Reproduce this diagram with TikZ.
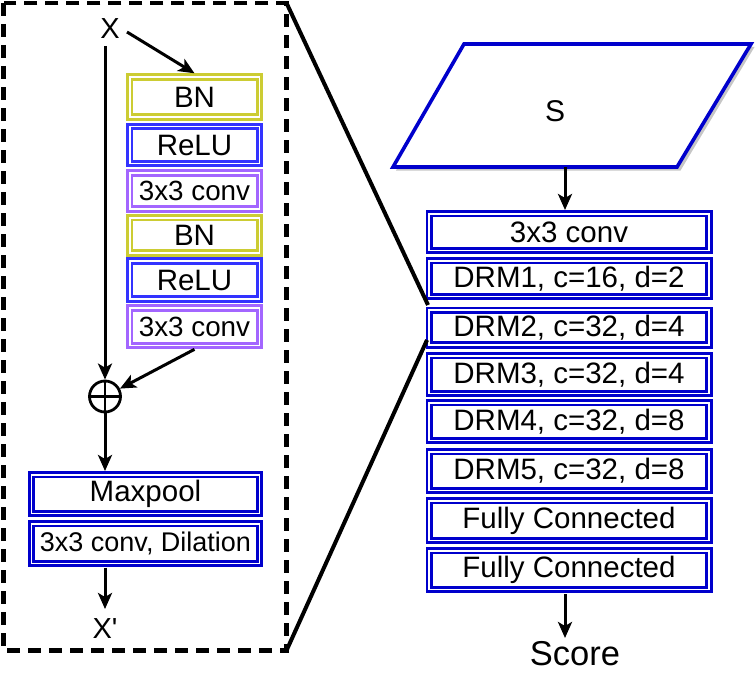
\documentclass[tikz,border=0pt]{standalone}
\usepackage{fontspec}
\setmainfont{Liberation Sans}
\usetikzlibrary{arrows.meta,calc}
\definecolor{yel}{RGB}{204,204,51}
\definecolor{rblue}{RGB}{51,51,255}
\definecolor{purp}{RGB}{163,102,255}
\definecolor{dblue}{RGB}{0,0,204}
\newcommand{\fs}[1]{\fontsize{#1bp}{#1bp}\selectfont}
\tikzset{
  dbox/.style={draw=#1, double=white, line width=2.9bp, double distance=1.6bp,
    fill=white, inner sep=0pt, outer sep=3.7bp, align=center, font=\fs{29.5}},
  conn/.style={line width=3bp, -{Stealth[length=16bp,width=14bp,inset=4bp]}},
  plainline/.style={line width=2.8bp},
  zoomline/.style={line width=4bp},
  txt/.style={inner sep=0pt, font=\fs{29}},
}
\begin{document}
\begin{tikzpicture}[x=1bp,y=-1bp]
\useasboundingbox (0,0) rectangle (756,675);
% dashed frame
\draw[line width=4.4bp, dash pattern=on 13bp off 8bp] (3.5,3) rectangle (286.5,650.5);
\coordinate (fTR) at (286.5,3);
\coordinate (fBR) at (286.5,650.5);
% left column boxes
\node[dbox=yel, minimum width=129.6bp, minimum height=40bp] (bn1) at (194.5,97) {BN};
\node[dbox=rblue, minimum width=129.6bp, minimum height=37.2bp] (relu1) at (194.5,145) {ReLU};
\node[dbox=purp, minimum width=129.6bp, minimum height=36bp, font=\fs{27.8}] (conv1) at (194.5,191) {3x3 conv};
\node[dbox=yel, minimum width=129.6bp, minimum height=35.4bp] (bn2) at (194.5,235.4) {BN};
\node[dbox=rblue, minimum width=129.6bp, minimum height=38bp] (relu2) at (194.5,280) {ReLU};
\node[dbox=purp, minimum width=129.6bp, minimum height=37.6bp, font=\fs{27.8}] (conv2) at (194.5,326.8) {3x3 conv};
\node[dbox=dblue, minimum width=227.6bp, minimum height=38.6bp] (maxp) at (145.5,494) {Maxpool};
\node[dbox=dblue, minimum width=227.6bp, minimum height=39.6bp, font=\fs{27}] (dil) at (145.5,543.5) {3x3 conv, Dilation};
% X, X'
\node[txt] (X) at (110,29) {X};
\node[txt] (Xp) at (105,629) {X\textquotesingle};
\node[draw, circle, line width=2.8bp, minimum size=31bp, inner sep=0pt] (op) at (105,396.5) {};
\draw[plainline] (op.north) -- (op.south);
\draw[plainline] (op.west) -- (op.east);
\coordinate (Xs) at (105,46);
\draw[conn] (Xs) -- (op.north);
\draw[conn] (127,32) -- (bn1.north);
\draw[conn] (conv2.south) -- (op);
\draw[conn] (op.south) -- (op.south |- maxp.north);
\coordinate (dilb) at (105,567.5);
\coordinate (xpt) at (105,609);
\draw[conn] (dilb) -- (xpt);
% parallelogram S
\fill[gray!45] (467,47) -- (754.5,47) -- (680.5,170.5) -- (396,170.5) -- cycle;
\draw[dblue, line width=3.6bp, fill=white, line join=miter] (464,44) -- (751,44) -- (677,167) -- (393,167) -- cycle;
\node[txt, font=\fs{30}] (S) at (555,111) {S};
\coordinate (Sb) at (565,167);
% right column
\node[dbox=dblue, minimum width=279.6bp, minimum height=36.6bp] (c0) at (569,232) {3x3 conv};
\node[dbox=dblue, minimum width=279.6bp, minimum height=35.6bp] (d1) at (569,278.5) {DRM1, c=16, d=2};
\node[dbox=dblue, minimum width=279.6bp, minimum height=34.6bp] (d2) at (569,327.5) {DRM2, c=32, d=4};
\node[dbox=dblue, minimum width=279.6bp, minimum height=37.6bp] (d3) at (569,374.5) {DRM3, c=32, d=4};
\node[dbox=dblue, minimum width=279.6bp, minimum height=37.6bp] (d4) at (569,421.5) {DRM4, c=32, d=8};
\node[dbox=dblue, minimum width=279.6bp, minimum height=38.6bp] (d5) at (569,471) {DRM5, c=32, d=8};
\node[dbox=dblue, minimum width=279.6bp, minimum height=39.6bp] (fc1) at (569,520.5) {Fully Connected};
\node[dbox=dblue, minimum width=279.6bp, minimum height=38.6bp] (fc2) at (569,570) {Fully Connected};
\node[txt, font=\fs{34.5}] (score) at (575,654) {Score};
\draw[conn] (Sb) -- (c0.north -| Sb);
\coordinate (fc2b) at (565,594);
\coordinate (sct) at (565,638);
\draw[conn] (fc2b) -- (sct);
% zoom lines
\coordinate (z1) at (428,305);
\coordinate (z2) at (427,340);
\draw[zoomline] (fTR) -- (z1);
\draw[zoomline] (fBR) -- (z2);
\end{tikzpicture}
\end{document}
